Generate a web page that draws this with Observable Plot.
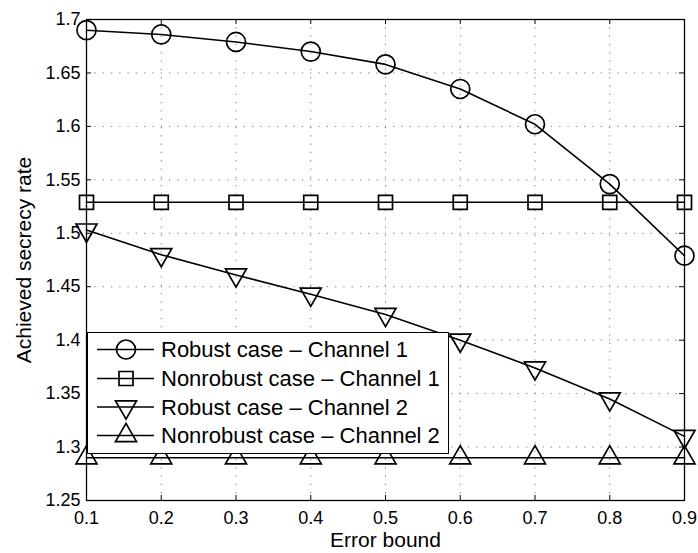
<!DOCTYPE html>
<html>
<head>
<meta charset="utf-8">
<script src="https://cdn.jsdelivr.net/npm/d3@7"></script>
<script src="https://cdn.jsdelivr.net/npm/@observablehq/plot@0.6"></script>
<style>
  body { margin: 0; background: #fff; }
  #chart { position: relative; width: 698px; height: 553px; font-family: "Liberation Sans", Arial, Helvetica, sans-serif; }
  #legend { position: absolute; background: #fff; border: 1.3px solid #000; box-sizing: border-box; }
</style>
</head>
<body>
<div id="chart"></div>
<script>
// ---- data ----
const errorBound = [0.1, 0.2, 0.3, 0.4, 0.5, 0.6, 0.7, 0.8, 0.9];
const robustCh1 = [1.690, 1.686, 1.679, 1.670, 1.658, 1.635, 1.602, 1.546, 1.479];
const nonrobustCh1 = [1.529, 1.529, 1.529, 1.529, 1.529, 1.529, 1.529, 1.529, 1.529];
const robustCh2 = [1.503, 1.480, 1.461, 1.443, 1.424, 1.400, 1.374, 1.345, 1.310];
const nonrobustCh2 = [1.290, 1.290, 1.290, 1.290, 1.290, 1.290, 1.290, 1.290, 1.290];
const seriesNames = [
  "Robust case \u2013 Channel 1",
  "Nonrobust case \u2013 Channel 1",
  "Robust case \u2013 Channel 2",
  "Nonrobust case \u2013 Channel 2"
];
const xTicks = [0.1, 0.2, 0.3, 0.4, 0.5, 0.6, 0.7, 0.8, 0.9];
const yTicks = [1.25, 1.3, 1.35, 1.4, 1.45, 1.5, 1.55, 1.6, 1.65, 1.7];
const xLabel = "Error bound";
const yLabel = "Achieved secrecy rate";

// ---- styles ----
const W = 698, H = 553;
const mL = 86, mR = 14, mT = 19, mB = 53;
const innerW = W - mL - mR, innerH = H - mT - mB;
const tickLen = 5;
const markerStyles = [
  {symbol: "circle", r: 9.5, rotate: 0},
  {symbol: "square", r: 7.9, rotate: 0},
  {symbol: "triangle", r: 7.8, rotate: 180},
  {symbol: "triangle", r: 7.8, rotate: 0}
];

const allSeries = [robustCh1, nonrobustCh1, robustCh2, nonrobustCh2];
const table = allSeries.flatMap((vals, si) =>
  vals.map((v, i) => ({x: errorBound[i], y: v, series: seriesNames[si]})));

const font = '"Liberation Sans", Arial, Helvetica, sans-serif';

const marks = [
  Plot.ruleX(xTicks, {x: d => d, stroke: "#808080", strokeWidth: 1, strokeDasharray: "1.3,7"}),
  Plot.ruleY(yTicks, {y: d => d, stroke: "#808080", strokeWidth: 1, strokeDasharray: "1.3,7"}),
  Plot.tickX(xTicks, {x: d => d, insetTop: innerH - tickLen, stroke: "#000"}),
  Plot.tickX(xTicks, {x: d => d, insetBottom: innerH - tickLen, stroke: "#000"}),
  Plot.tickY(yTicks, {y: d => d, insetRight: innerW - tickLen, stroke: "#000"}),
  Plot.tickY(yTicks, {y: d => d, insetLeft: innerW - tickLen, stroke: "#000"}),
  Plot.frame({stroke: "#000", strokeWidth: 1.3}),
  Plot.axisX({ticks: xTicks, tickSize: 0, tickPadding: 11, tickFormat: d => String(d), label: null, fontSize: 18}),
  Plot.axisY({ticks: yTicks, tickSize: 0, tickPadding: 6, tickFormat: d => String(+d.toFixed(2)), label: null, fontSize: 18}),
  Plot.text([xLabel], {text: d => d, frameAnchor: "bottom", dy: 40, fontSize: 21, lineAnchor: "middle", textAnchor: "middle"}),
  Plot.text([yLabel], {text: d => d, frameAnchor: "left", dx: -62.5, rotate: -90, fontSize: 21, lineAnchor: "middle", textAnchor: "middle"}),
  Plot.line(table, {x: "x", y: "y", z: "series", stroke: "#000", strokeWidth: 1.6})
];
seriesNames.forEach((name, si) => {
  const m = markerStyles[si];
  marks.push(Plot.dot(table.filter(d => d.series === name), {
    x: "x", y: "y", symbol: m.symbol, r: m.r, rotate: m.rotate,
    stroke: "#000", strokeWidth: 1.7, fill: "none"
  }));
});

const chart = Plot.plot({
  width: W, height: H,
  marginLeft: mL, marginRight: mR, marginTop: mT, marginBottom: mB,
  x: {domain: [0.1, 0.9]},
  y: {domain: [1.25, 1.7]},
  style: {fontFamily: font, fontSize: "18px", color: "#000", background: "#fff"},
  marks
});
const container = document.getElementById("chart");
container.appendChild(chart);

// ---- legend (overlay inside axes) ----
const lg = {left: 86.5, top: 331.5, width: 362, height: 122, rowY: [18.5, 47.5, 76, 104.5], lineX0: 11, lineX1: 68, markX: 40, textX: 75, fontSize: 22};
const legend = document.createElement("div");
legend.id = "legend";
Object.assign(legend.style, {left: lg.left + "px", top: lg.top + "px", width: lg.width + "px", height: lg.height + "px"});
container.appendChild(legend);
const svg = d3.select(legend).append("svg")
  .attr("width", lg.width).attr("height", lg.height)
  .style("position", "absolute").style("left", "-1.3px").style("top", "-1.3px").style("overflow", "visible");
const symMap = {circle: d3.symbolCircle, square: d3.symbolSquare, triangle: d3.symbolTriangle};
seriesNames.forEach((name, si) => {
  const m = markerStyles[si];
  const g = svg.append("g").attr("transform", `translate(0,${lg.rowY[si]})`);
  g.append("line").attr("x1", lg.lineX0).attr("x2", lg.lineX1).attr("y1", 0).attr("y2", 0)
    .attr("stroke", "#000").attr("stroke-width", 1.6);
  g.append("path")
    .attr("d", d3.symbol(symMap[m.symbol], Math.PI * m.r * m.r)())
    .attr("transform", `translate(${lg.markX},0) rotate(${m.rotate})`)
    .attr("fill", "none").attr("stroke", "#000").attr("stroke-width", 1.7);
  g.append("text").attr("x", lg.textX).attr("y", 0).attr("dy", "0.36em")
    .attr("font-family", font).attr("font-size", lg.fontSize).attr("fill", "#000")
    .text(name);
});
</script>
</body>
</html>
